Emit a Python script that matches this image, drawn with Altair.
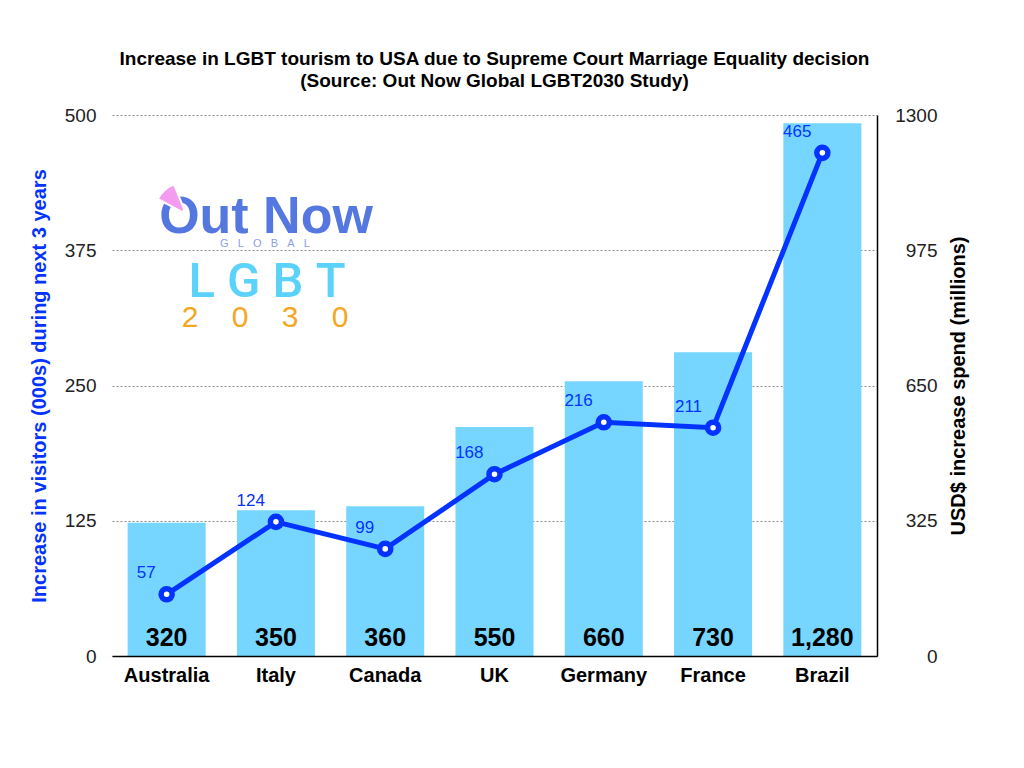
import altair as alt
import pandas as pd

countries = ["Australia", "Italy", "Canada", "UK", "Germany", "France", "Brazil"]
spend_musd = [320, 350, 360, 550, 660, 730, 1280]
visitors_k = [57, 124, 99, 168, 216, 211, 465]

spend_ticks = [0, 325, 650, 975, 1300]
visitor_ticks = [0, 125, 250, 375, 500]

title_lines = [
    "Increase in LGBT tourism to USA due to Supreme Court Marriage Equality decision",
    "(Source: Out Now Global LGBT2030 Study)",
]
logo_words = ["Out Now", "GLOBAL", "LGBT", "2030"]

source = pd.DataFrame({"country": countries, "spend": spend_musd, "visitors": visitors_k})

BLUE = "#0433ff"
BAR = "#76d6ff"
FONT = "Liberation Sans"
NB = "\u00a0"

base = alt.Chart(source).encode(
    x=alt.X(
        "country:N",
        sort=countries,
        scale=alt.Scale(paddingInner=0.286, paddingOuter=0.143),
        axis=alt.Axis(
            title=None, labelAngle=0, labelFontSize=20, labelFontWeight="bold",
            labelColor="black", labelPadding=9, ticks=False,
            domainColor="black", domainWidth=1.5, zindex=1,
        ),
    )
)

# bars -> right axis (spend)
spend_y = alt.Y(
    "spend:Q",
    scale=alt.Scale(domain=[0, 1300], nice=False),
    axis=alt.Axis(
        orient="right", values=spend_ticks, format="d", grid=False, ticks=False,
        domainColor="black", domainWidth=1.5, zindex=1,
        labelAlign="right", labelPadding=60, labelFontSize=19, labelColor="#222",
        title="USD$ increase spend (millions)", titleAngle=270, titleFontSize=20,
        titleColor="black", titlePadding=31,
    ),
)
bars = base.mark_bar(color=BAR).encode(y=spend_y)
bar_text = base.mark_text(
    fontSize=25, fontWeight="bold", baseline="alphabetic", dy=-10, color="black", font=FONT
).encode(y=alt.datum(0), text=alt.Text("spend:Q", format=","))

# line -> left axis (visitors)
vis_y = alt.Y(
    "visitors:Q",
    scale=alt.Scale(domain=[0, 500], nice=False),
    axis=alt.Axis(
        orient="left", values=visitor_ticks, grid=True, gridDash=[2, 2],
        gridColor="#8a8a8a", domain=False, ticks=False,
        labelPadding=16, labelFontSize=19, labelColor="#222",
        title="Increase in visitors (000s) during next 3 years", titleFontSize=20,
        titleColor=BLUE, titlePadding=15,
    ),
)
line = base.mark_line(color=BLUE, strokeWidth=5).encode(y=vis_y)
points = base.mark_point(
    shape="circle", filled=True, fill="white", stroke=BLUE, strokeWidth=5.5, size=123, opacity=1
).encode(y="visitors:Q")
line_text = base.mark_text(
    align="right", baseline="alphabetic", dx=-11, dy=-16, fontSize=17, color=BLUE, font=FONT
).encode(y="visitors:Q", text="visitors:Q")

# logo
def logo_text(word, x, y, size, color, weight="normal", font=FONT):
    return alt.Chart(pd.DataFrame({"t": [word]})).mark_text(
        align="center", baseline="alphabetic", fontSize=size, color=color,
        fontWeight=weight, font=font,
    ).encode(text="t:N", x=alt.value(x), y=alt.value(y))

logo = [
    logo_text(logo_words[0], 154, 118, 52, "#5578e0", "bold"),
    logo_text((NB * 3).join(logo_words[1]), 153, 132, 11, "#8da0e8"),
    logo_text(NB.join(logo_words[2]), 155, 182, 49, "#5ad2fa", 500, "Roboto"),
    logo_text((NB * 4).join(logo_words[3]), 153, 212, 30, "#f5a623"),
]
wedge = alt.Chart(pd.DataFrame({"a": [0]})).mark_arc(
    color="#f49cf0", theta=5.2, theta2=5.9, innerRadius=4, outerRadius=32,
    stroke="white", strokeWidth=2,
).encode(x=alt.value(74), y=alt.value(99))

chart = alt.layer(
    alt.layer(bars, bar_text),
    alt.layer(line, points, line_text),
    *logo,
    wedge,
).resolve_scale(y="independent").properties(
    width=765,
    height=541,
    autosize=alt.AutoSizeParams(type="none"),
    padding={"left": 104, "top": 107, "right": 110, "bottom": 60},
    title=alt.Title(
        title_lines, fontSize=19, font=FONT, fontWeight="bold", anchor="middle",
        lineHeight=22, offset=15, color="black",
    ),
).configure_view(stroke=None).configure_axis(
    labelFont=FONT, titleFont=FONT, titleFontWeight="bold"
)

chart.save("out.html", embed_options={"renderer": "svg", "actions": False})
